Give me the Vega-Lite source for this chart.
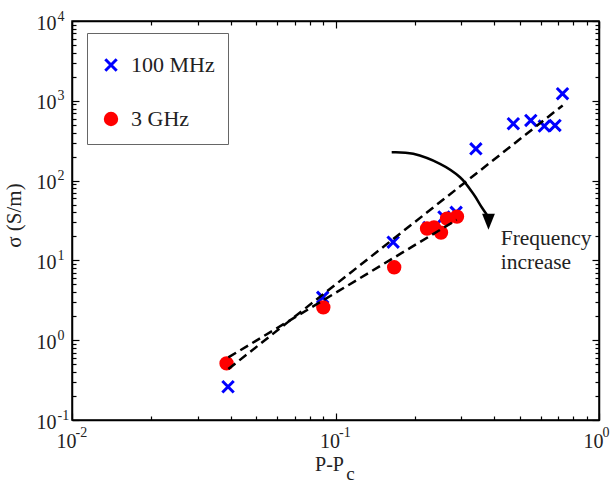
{
  "$schema": "https://vega.github.io/schema/vega-lite/v6.json",
  "width": 527,
  "height": 399,
  "autosize": {"type": "none"},
  "padding": {"left": 72, "top": 21, "right": 14, "bottom": 63},
  "background": "white",
  "config": {"view": {"stroke": "black", "strokeWidth": 1.5}, "font": "Liberation Serif, Times New Roman, serif"},
  "datasets": {
    "pts": [
      {"series": "100 MHz", "p": 0.0391, "s": 0.261},
      {"series": "100 MHz", "p": 0.0894, "s": 3.44},
      {"series": "100 MHz", "p": 0.1655, "s": 16.9},
      {"series": "100 MHz", "p": 0.226, "s": 25.8},
      {"series": "100 MHz", "p": 0.258, "s": 35},
      {"series": "100 MHz", "p": 0.287, "s": 40},
      {"series": "100 MHz", "p": 0.341, "s": 250},
      {"series": "100 MHz", "p": 0.473, "s": 516},
      {"series": "100 MHz", "p": 0.551, "s": 568},
      {"series": "100 MHz", "p": 0.62, "s": 482},
      {"series": "100 MHz", "p": 0.681, "s": 491},
      {"series": "100 MHz", "p": 0.727, "s": 1227},
      {"series": "3 GHz", "p": 0.0386, "s": 0.512},
      {"series": "3 GHz", "p": 0.0899, "s": 2.58},
      {"series": "3 GHz", "p": 0.167, "s": 8.19},
      {"series": "3 GHz", "p": 0.2225, "s": 25.06},
      {"series": "3 GHz", "p": 0.2365, "s": 25.8},
      {"series": "3 GHz", "p": 0.2514, "s": 22.3},
      {"series": "3 GHz", "p": 0.265, "s": 33.4},
      {"series": "3 GHz", "p": 0.2891, "s": 35.4}
    ],
    "fits": [
      {"fit": "100 MHz", "p": 0.0392, "s": 0.435},
      {"fit": "100 MHz", "p": 0.728, "s": 875},
      {"fit": "3 GHz", "p": 0.0392, "s": 0.608},
      {"fit": "3 GHz", "p": 0.2884, "s": 32.2}
    ],
    "arrow": [
      {"i": 1, "p": 0.1634, "s": 227},
      {"i": 2, "p": 0.1973, "s": 216.9},
      {"i": 3, "p": 0.2492, "s": 162.5},
      {"i": 4, "p": 0.2969, "s": 110.3},
      {"i": 5, "p": 0.3334, "s": 68.3},
      {"i": 6, "p": 0.3588, "s": 46.4},
      {"i": 7, "p": 0.3749, "s": 37.6}
    ],
    "head": [{"p": 0.3807, "s": 30.4}],
    "note": [{"p": 0.4236, "s": 15.4, "t": ["Frequency", "increase"]}]
  },
  "layer": [
    {
      "data": {"name": "pts"},
      "mark": {"type": "point", "filled": true, "strokeWidth": 3, "opacity": 1, "size": 130},
      "encoding": {
        "x": {
          "field": "p", "type": "quantitative",
          "scale": {"type": "log", "domain": [0.01, 1], "nice": false},
          "axis": {
            "orient": "bottom",
            "values": [0.01,0.02,0.03,0.04,0.05,0.06,0.07,0.08,0.09,0.1,0.2,0.3,0.4,0.5,0.6,0.7,0.8,0.9,1],
            "labelExpr": "datum.value==0.01||datum.value==0.1||datum.value==1?'10':''",
            "tickSize": {"condition": {"test": "abs(log(datum.value)/LN10 - round(log(datum.value)/LN10)) < 0.001", "value": -7}, "value": -4},
            "tickColor": "black", "tickWidth": 1.2,
            "domainColor": "black", "domainWidth": 1.5,
            "grid": false,
            "labelFont": "Liberation Serif, Times New Roman, serif", "labelFontSize": 20, "labelColor": "#222",
            "labelBaseline": "alphabetic", "labelAlign": "center", "labelOffset": -6,
            "labelPadding": 34, "labelOverlap": false, "labelFlush": false, "labelBound": false,
            "title": "P-P", "titleFont": "Liberation Serif, Times New Roman, serif", "titleFontSize": 20, "titleFontWeight": "normal",
            "titleColor": "#222", "titleBaseline": "alphabetic", "titleY": 50, "titleX": 257
          }
        },
        "y": {
          "field": "s", "type": "quantitative",
          "scale": {"type": "log", "domain": [0.1, 10000], "nice": false},
          "axis": {
            "orient": "left",
            "values": [0.1,0.2,0.3,0.4,0.5,0.6,0.7,0.8,0.9,1,2,3,4,5,6,7,8,9,10,20,30,40,50,60,70,80,90,100,200,300,400,500,600,700,800,900,1000,2000,3000,4000,5000,6000,7000,8000,9000,10000],
            "labelExpr": "abs(log(datum.value)/LN10 - round(log(datum.value)/LN10)) < 0.001 ? '10' : ''",
            "tickSize": {"condition": {"test": "abs(log(datum.value)/LN10 - round(log(datum.value)/LN10)) < 0.001", "value": -7}, "value": -4},
            "tickColor": "black", "tickWidth": 1.2,
            "domainColor": "black", "domainWidth": 1.5,
            "grid": false,
            "labelFont": "Liberation Serif, Times New Roman, serif", "labelFontSize": 20, "labelColor": "#222",
            "labelOffset": 2,
            "labelPadding": 23, "labelOverlap": false, "labelFlush": false, "labelBound": false,
            "title": "σ (S/m)", "titleFont": "Liberation Serif, Times New Roman, serif", "titleFontSize": 21, "titleFontWeight": "normal",
            "titleColor": "#222", "titleBaseline": "alphabetic", "titleX": -52, "titleY": 194
          }
        },
        "shape": {
          "field": "series", "type": "nominal",
          "scale": {"domain": ["100 MHz", "3 GHz"], "range": ["M-1,-1L1,1M1,-1L-1,1", "circle"]},
          "legend": {"title": " ", "titleFontSize": 8, "titlePadding": 0, "orient": "none", "legendX": 15, "legendY": 12, "strokeColor": "#666", "fillColor": "white", "padding": 13, "rowPadding": 30, "labelFont": "Liberation Serif, Times New Roman, serif", "labelFontSize": 22, "labelColor": "#222", "labelOffset": 9, "symbolStrokeWidth": 3, "symbolSize": 130}
        },
        "fill": {
          "field": "series", "type": "nominal",
          "scale": {"domain": ["100 MHz", "3 GHz"], "range": ["transparent", "#ff0000"]},
          "legend": {"title": " ", "titleFontSize": 8, "titlePadding": 0, "orient": "none", "legendX": 15, "legendY": 12, "strokeColor": "#666", "fillColor": "white", "padding": 13, "rowPadding": 30, "labelFont": "Liberation Serif, Times New Roman, serif", "labelFontSize": 22, "labelColor": "#222", "labelOffset": 9, "symbolStrokeWidth": 3, "symbolSize": 130}
        },
        "stroke": {
          "field": "series", "type": "nominal",
          "scale": {"domain": ["100 MHz", "3 GHz"], "range": ["#0000ff", "#ff0000"]},
          "legend": {"title": " ", "titleFontSize": 8, "titlePadding": 0, "orient": "none", "legendX": 15, "legendY": 12, "strokeColor": "#666", "fillColor": "white", "padding": 13, "rowPadding": 30, "labelFont": "Liberation Serif, Times New Roman, serif", "labelFontSize": 22, "labelColor": "#222", "labelOffset": 9, "symbolStrokeWidth": 3, "symbolSize": 130}
        }
      }
    },
    {
      "data": {"name": "fits"},
      "mark": {"type": "line", "color": "black", "strokeDash": [9, 5], "strokeWidth": 2.5},
      "encoding": {
        "x": {
          "field": "p", "type": "quantitative",
          "scale": {"type": "log", "domain": [0.01, 1], "nice": false},
          "axis": {
            "orient": "top",
            "values": [0.01,0.02,0.03,0.04,0.05,0.06,0.07,0.08,0.09,0.1,0.2,0.3,0.4,0.5,0.6,0.7,0.8,0.9,1],
            "labels": false, "title": null, "grid": false,
            "tickSize": {"condition": {"test": "abs(log(datum.value)/LN10 - round(log(datum.value)/LN10)) < 0.001", "value": -7}, "value": -4},
            "tickColor": "black", "tickWidth": 1.2, "domainColor": "black", "domainWidth": 1.5
          }
        },
        "y": {
          "field": "s", "type": "quantitative",
          "scale": {"type": "log", "domain": [0.1, 10000], "nice": false},
          "axis": {
            "orient": "right",
            "values": [0.1,0.2,0.3,0.4,0.5,0.6,0.7,0.8,0.9,1,2,3,4,5,6,7,8,9,10,20,30,40,50,60,70,80,90,100,200,300,400,500,600,700,800,900,1000,2000,3000,4000,5000,6000,7000,8000,9000,10000],
            "labels": false, "title": null, "grid": false,
            "tickSize": {"condition": {"test": "abs(log(datum.value)/LN10 - round(log(datum.value)/LN10)) < 0.001", "value": -7}, "value": -4},
            "tickColor": "black", "tickWidth": 1.2, "domainColor": "black", "domainWidth": 1.5
          }
        },
        "detail": {"field": "fit", "type": "nominal"}
      }
    },
    {
      "data": {"name": "arrow"},
      "mark": {"type": "line", "color": "black", "strokeWidth": 2.5, "interpolate": "cardinal"},
      "encoding": {
        "x": {
          "field": "p", "type": "quantitative", "scale": {"type": "log", "domain": [0.01, 1], "nice": false},
          "axis": {
            "orient": "bottom", "values": [0.01, 0.1, 1],
            "labelExpr": "datum.value==0.01?'-2':datum.value==0.1?'-1':'0'",
            "ticks": false, "tickSize": 0, "domain": false, "grid": false, "title": null,
            "labelFont": "Liberation Serif, Times New Roman, serif", "labelFontSize": 14, "labelColor": "#222",
            "labelBaseline": "alphabetic", "labelAlign": "left", "labelOffset": 3,
            "labelPadding": 16, "labelOverlap": false, "labelFlush": false, "labelBound": false
          }
        },
        "y": {
          "field": "s", "type": "quantitative", "scale": {"type": "log", "domain": [0.1, 10000], "nice": false},
          "axis": {
            "orient": "left", "values": [0.1, 1, 10, 100, 1000, 10000],
            "labelExpr": "datum.value==0.1?'-1':datum.value==1?'0':datum.value==10?'1':datum.value==100?'2':datum.value==1000?'3':'4'",
            "ticks": false, "tickSize": 0, "domain": false, "grid": false, "title": null,
            "labelFont": "Liberation Serif, Times New Roman, serif", "labelFontSize": 14, "labelColor": "#222",
            "labelBaseline": "middle", "labelAlign": "left", "labelOffset": -5,
            "labelPadding": 15, "labelOverlap": false, "labelFlush": false, "labelBound": false
          }
        },
        "order": {"field": "i", "type": "quantitative"}
      }
    },
    {
      "data": {"name": "head"},
      "mark": {"type": "point", "shape": "M-0.8,-1L0.8,-1L0,1Z", "filled": true, "color": "black", "opacity": 1, "size": 256},
      "encoding": {
        "x": {
          "field": "p", "type": "quantitative", "scale": {"type": "log", "domain": [0.01, 1], "nice": false},
          "axis": {
            "orient": "bottom", "values": [0.1135],
            "labelExpr": "'c'",
            "ticks": false, "tickSize": 0, "domain": false, "grid": false, "title": null,
            "labelFont": "Liberation Serif, Times New Roman, serif", "labelFontSize": 19, "labelColor": "#222",
            "labelBaseline": "alphabetic", "labelAlign": "center",
            "labelPadding": 59, "labelOverlap": false, "labelFlush": false, "labelBound": false
          }
        },
        "y": {"field": "s", "type": "quantitative", "scale": {"type": "log", "domain": [0.1, 10000], "nice": false}, "axis": null}
      }
    },
    {
      "data": {"name": "note"},
      "mark": {"type": "text", "align": "left", "baseline": "alphabetic", "font": "Liberation Serif, Times New Roman, serif", "fontSize": 21.5, "color": "#222", "lineHeight": 24},
      "encoding": {
        "x": {"field": "p", "type": "quantitative", "scale": {"type": "log", "domain": [0.01, 1], "nice": false}, "axis": null},
        "y": {"field": "s", "type": "quantitative", "scale": {"type": "log", "domain": [0.1, 10000], "nice": false}, "axis": null},
        "text": {"field": "t"}
      }
    }
  ],
  "resolve": {"axis": {"x": "independent", "y": "independent"}}
}
